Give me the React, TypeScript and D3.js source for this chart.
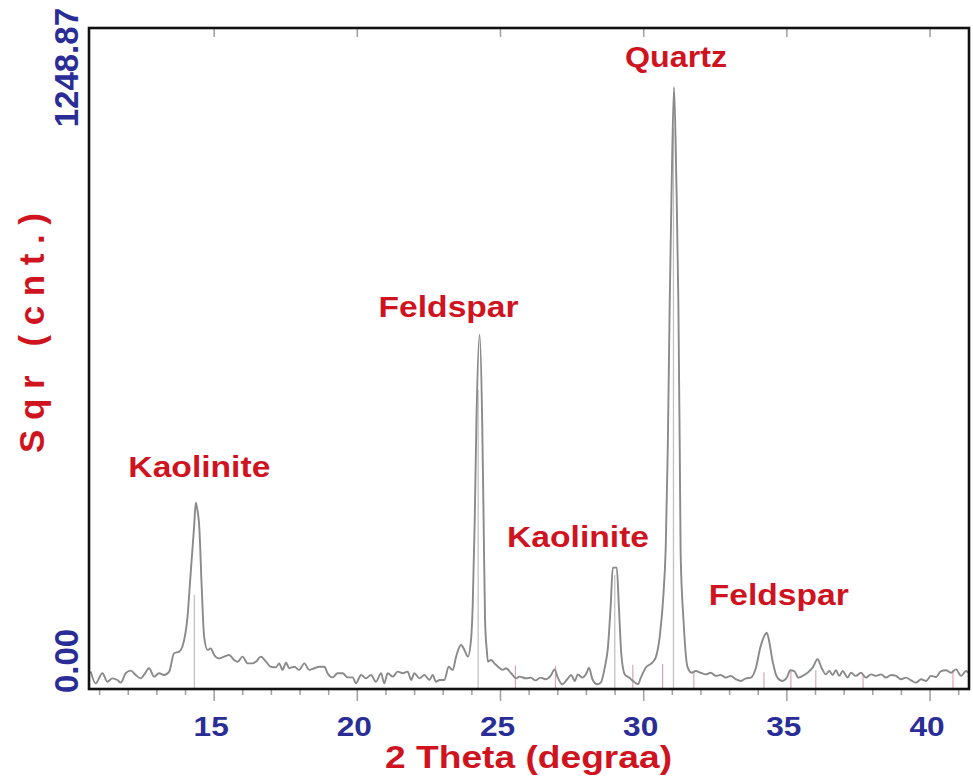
import React from "react";
import * as d3 from "d3";

// ---- data (2θ in degrees, intensity as sqrt(counts)) ----
const yMaxCounts = 1248.87;
const xTicksMajor = [15, 20, 25, 30, 35, 40];
const xTicksMinor = d3.range(11, 42);

const theta = [
  10.69, 10.86, 11.10, 11.27, 11.45, 11.62, 11.74, 11.91, 12.09, 12.26, 12.44, 12.55, 12.73, 12.90, 13.08, 13.25,
  13.43, 13.60, 13.78, 13.89, 14.07, 14.18, 14.30, 14.36, 14.40, 14.48, 14.57, 14.65, 14.77, 14.88, 15.00, 15.17,
  15.35, 15.52, 15.70, 15.82, 15.99, 16.17, 16.34, 16.46, 16.63, 16.81, 16.98, 17.16, 17.27, 17.39, 17.51, 17.62,
  17.80, 17.97, 18.15, 18.32, 18.50, 18.67, 18.85, 18.96, 19.14, 19.31, 19.49, 19.66, 19.84, 19.95, 20.13, 20.30,
  20.48, 20.65, 20.83, 20.94, 21.06, 21.24, 21.41, 21.59, 21.76, 21.88, 21.99, 22.17, 22.34, 22.52, 22.63, 22.75,
  22.87, 23.04, 23.19, 23.33, 23.45, 23.62, 23.74, 23.86, 23.97, 24.03, 24.10, 24.16, 24.27, 24.36, 24.41, 24.46,
  24.52, 24.56, 24.67, 24.79, 24.91, 25.08, 25.20, 25.37, 25.55, 25.66, 25.90, 26.05, 26.22, 26.40, 26.57, 26.75,
  26.89, 27.00, 27.16, 27.33, 27.47, 27.59, 27.70, 27.86, 28.01, 28.09, 28.21, 28.38, 28.50, 28.64, 28.75, 28.85,
  28.92, 29.06, 29.13, 29.22, 29.34, 29.49, 29.66, 29.80, 29.90, 30.07, 30.30, 30.42, 30.57, 30.69, 30.77, 30.84,
  30.91, 30.98, 31.06, 31.14, 31.21, 31.26, 31.29, 31.39, 31.53, 31.67, 31.82, 31.99, 32.17, 32.34, 32.52, 32.69,
  32.87, 33.04, 33.22, 33.39, 33.57, 33.74, 33.92, 34.07, 34.21, 34.30, 34.38, 34.50, 34.67, 34.85, 35.00, 35.12,
  35.26, 35.40, 35.55, 35.72, 35.90, 36.07, 36.21, 36.36, 36.48, 36.60, 36.71, 36.83, 36.95, 37.12, 37.24, 37.41,
  37.59, 37.76, 37.94, 38.11, 38.29, 38.46, 38.64, 38.81, 38.99, 39.16, 39.34, 39.51, 39.69, 39.86, 40.03, 40.21,
  40.38, 40.56, 40.73, 40.91, 41.08, 41.26, 41.38,
];

const sqrtCounts = [
  0.93, 0.30, 0.84, 0.39, 0.57, 0.48, 0.34, 0.84, 0.98, 0.75, 0.57, 0.75, 1.11, 0.66, 0.84, 0.75,
  0.93, 1.91, 2.00, 2.26, 3.87, 6.18, 8.68, 9.96, 9.70, 8.68, 5.29, 2.80, 2.09, 2.17, 1.82, 1.64,
  1.73, 1.82, 1.55, 1.46, 1.73, 1.37, 1.37, 1.46, 1.73, 1.46, 1.19, 1.16, 1.37, 1.02, 1.41, 1.11,
  1.19, 1.02, 1.37, 1.02, 1.11, 1.19, 1.19, 0.84, 0.62, 0.84, 0.84, 0.62, 0.62, 0.30, 0.75, 0.57,
  0.75, 0.39, 0.84, 0.30, 0.84, 0.66, 0.93, 0.84, 0.93, 0.48, 0.84, 0.57, 0.75, 0.48, 0.75, 0.39,
  0.48, 0.48, 1.19, 1.02, 1.73, 2.35, 2.09, 1.73, 2.62, 4.50, 9.04, 14.38, 18.93, 14.38, 9.04, 3.69,
  2.09, 1.46, 1.55, 1.37, 1.19, 1.02, 1.11, 0.84, 0.57, 0.66, 0.57, 0.61, 0.46, 0.61, 0.52, 0.70,
  1.05, 0.61, 0.25, 0.52, 0.75, 0.43, 0.78, 0.61, 0.87, 1.14, 0.52, 0.25, 0.34, 1.14, 2.21, 4.53,
  6.49, 6.49, 4.53, 1.85, 0.78, 0.61, 0.39, 0.25, 0.61, 1.14, 1.41, 1.68, 2.92, 5.06, 7.59, 12.78,
  20.80, 27.21, 32.18, 27.21, 20.80, 12.78, 7.27, 3.69, 1.18, 0.87, 0.96, 0.87, 0.78, 0.87, 0.70, 0.75,
  0.61, 0.70, 0.52, 0.43, 0.57, 0.61, 1.14, 2.21, 2.83, 3.01, 2.57, 1.50, 0.61, 0.43, 0.61, 1.00,
  0.96, 0.61, 0.70, 0.87, 1.14, 1.59, 1.14, 0.78, 0.96, 0.75, 1.00, 0.70, 0.96, 0.61, 0.87, 0.70,
  0.87, 0.61, 0.78, 0.70, 0.78, 0.61, 0.75, 0.70, 0.52, 0.61, 0.46, 0.34, 0.52, 0.43, 0.70, 0.64,
  0.96, 1.00, 0.87, 1.05, 0.70, 0.96, 0.78,
];

// reference (stick) pattern lines
const refTheta = [14.31, 24.22, 28.99, 31.04];
const refLevel = [5.03, 16.0, 6.1, 30.0];
const minorRefTheta = [25.52, 26.92, 29.62, 30.66, 31.75, 34.2, 35.14, 36.01, 37.66, 40.8];
const minorRefLevel = [1.25, 1.25, 1.3, 1.34, 0.96, 0.9, 1.0, 1.0, 0.8, 1.0];

// phase labels
const peakLabels = ["Kaolinite", "Feldspar", "Kaolinite", "Quartz", "Feldspar"];
const peakTheta = [14.38, 24.27, 29.0, 31.06, 34.3];
const peakLevel = [9.96, 18.93, 6.49, 32.18, 3.01];

const xTitle = "2 Theta (degraa)";
const yTitle = "Sqr (cnt.)";

export default function App() {
  const W = 973;
  const H = 776;
  const frame = { left: 89, top: 28, right: 969, bottom: 689 };
  const font = "'Liberation Sans', Arial, Helvetica, sans-serif";
  const red = "#d0141f";
  const blue = "#2a2d96";

  const x = d3.scaleLinear().domain([10.63, 41.36]).range([frame.left, frame.right]);
  const y = d3
    .scaleLinear()
    .domain([0, Math.sqrt(yMaxCounts)])
    .range([frame.bottom, frame.top]);

  const pts: [number, number][] = theta.map((t, i) => [t, sqrtCounts[i]]);
  const line = d3
    .line<[number, number]>()
    .x((d) => x(d[0]))
    .y((d) => y(d[1]))
    .curve(d3.curveMonotoneX);

  const fmt = d3.format(".2f");
  const yLabelBottom = fmt(y.domain()[0] ** 2);
  const yLabelTop = fmt(y.domain()[1] ** 2);

  // label layout (offsets from peak apex, widths)
  const labelLayout = [
    { dx: 3, dy: -26, w: 142 },
    { dx: -31, dy: -18, w: 140 },
    { dx: -37, dy: -21, w: 142 },
    { dx: 2, dy: -20, w: 102 },
    { dx: 12, dy: -28, w: 140 },
  ];

  return (
    <svg
      width={W}
      height={H}
      viewBox={`0 0 ${W} ${H}`}
      style={{ position: "absolute", left: 0, top: 0, display: "block", background: "#fff" }}
    >
      <defs>
        <clipPath id="plotclip">
          <rect x={frame.left} y={frame.top} width={frame.right - frame.left} height={frame.bottom - frame.top} />
        </clipPath>
      </defs>
      <rect x={0} y={0} width={W} height={H} fill="#fff" />

      <g clipPath="url(#plotclip)">
        {minorRefTheta.map((t, i) => (
          <line
            key={"m" + i}
            x1={x(t)}
            x2={x(t)}
            y1={y(0)}
            y2={y(minorRefLevel[i])}
            stroke="#d9a6b6"
            strokeWidth={1.2}
          />
        ))}
        {refTheta.map((t, i) => (
          <line
            key={"r" + i}
            x1={x(t)}
            x2={x(t)}
            y1={y(0)}
            y2={y(refLevel[i])}
            stroke="#c2c2c2"
            strokeWidth={1.3}
          />
        ))}
        <path d={line(pts) || ""} fill="none" stroke="#8a8a8a" strokeWidth={1.9} strokeLinejoin="round" />
      </g>

      {/* ticks bottom */}
      {xTicksMinor.map((v) => (
        <line
          key={"tm" + v}
          x1={x(v)}
          x2={x(v)}
          y1={frame.bottom}
          y2={frame.bottom + (xTicksMajor.includes(v) ? 12 : 6)}
          stroke="#a0a0a0"
          strokeWidth={1.5}
        />
      ))}
      {/* ticks top */}
      {xTicksMajor.map((v) => (
        <line
          key={"tt" + v}
          x1={x(v)}
          x2={x(v)}
          y1={frame.top}
          y2={frame.top + 9}
          stroke="#a0a0a0"
          strokeWidth={1.5}
        />
      ))}

      {/* frame */}
      <rect
        x={frame.left}
        y={frame.top}
        width={frame.right - frame.left}
        height={frame.bottom - frame.top}
        fill="none"
        stroke="#111"
        strokeWidth={2.6}
      />

      {/* x tick labels */}
      {xTicksMajor.map((v) => (
        <text
          key={"xl" + v}
          transform={`translate(${x(v) - 3},736) scale(1.13,1)`}
          textAnchor="middle"
          fontFamily={font}
          fontWeight="bold"
          fontSize={28}
          fill={blue}
        >
          {v}
        </text>
      ))}

      {/* y tick labels */}
      <text
        transform={`translate(78,${y(0) + 4}) rotate(-90)`}
        textAnchor="start"
        fontFamily={font}
        fontWeight="bold"
        fontSize={33}
        fill={blue}
      >
        {yLabelBottom}
      </text>
      <text
        transform={`translate(78,8) rotate(-90)`}
        textAnchor="end"
        fontFamily={font}
        fontWeight="bold"
        fontSize={33}
        fill={blue}
      >
        {yLabelTop}
      </text>

      {/* axis titles */}
      <text
        x={528.5}
        y={768}
        textAnchor="middle"
        fontFamily={font}
        fontWeight="bold"
        fontSize={32}
        fill={red}
        textLength={287}
        lengthAdjust="spacingAndGlyphs"
      >
        {xTitle}
      </text>
      <text
        transform="translate(44,333) rotate(-90)"
        textAnchor="middle"
        fontFamily={font}
        fontWeight="bold"
        fontSize={35}
        fill={red}
        textLength={240}
        lengthAdjust="spacing"
      >
        {yTitle}
      </text>

      {/* phase labels */}
      {peakLabels.map((lab, i) => {
        const L = labelLayout[i];
        const cx = x(peakTheta[i]) + L.dx;
        const by = y(peakLevel[i]) + L.dy;
        return (
          <text
            key={"pl" + i}
            x={cx - L.w / 2}
            y={by}
            fontFamily={font}
            fontWeight="bold"
            fontSize={29}
            fill={red}
            textLength={L.w}
            lengthAdjust="spacingAndGlyphs"
          >
            {lab}
          </text>
        );
      })}
    </svg>
  );
}
